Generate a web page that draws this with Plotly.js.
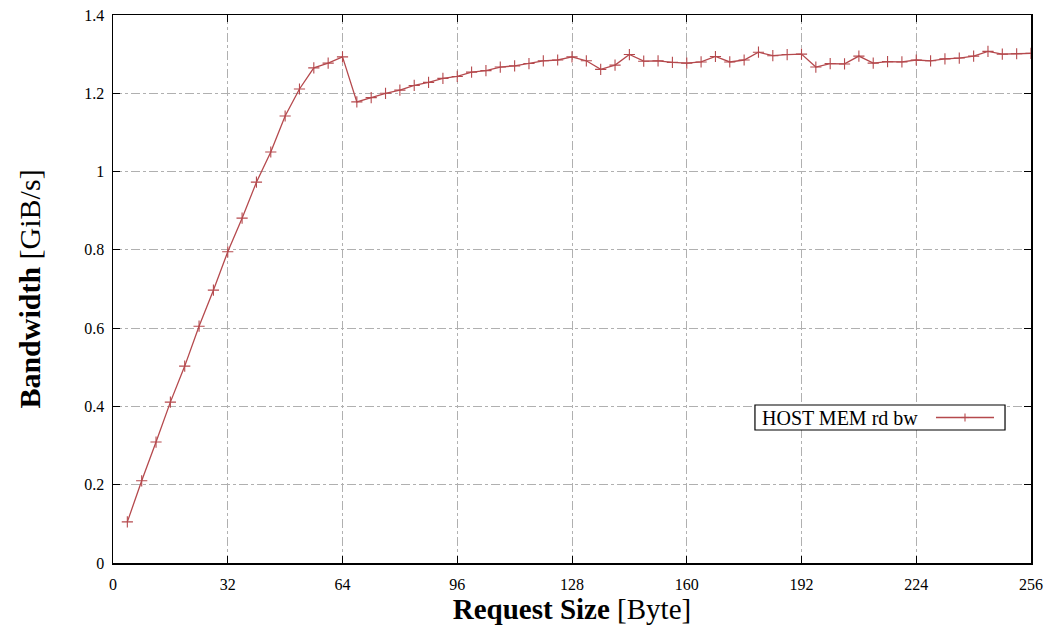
<!DOCTYPE html>
<html>
<head>
<meta charset="utf-8">
<script src="https://cdn.plot.ly/plotly-3.0.1.min.js"></script>
<style>html,body{margin:0;padding:0;background:#fff;}#chart{width:1049px;height:634px;}</style>
</head>
<body>
<div id="chart"></div>
<script>
const requestSize = [4,8,12,16,20,24,28,32,36,40,44,48,52,56,60,64,
  68,72,76,80,84,88,92,96,100,104,108,112,116,120,124,128,
  132,136,140,144,148,152,156,160,164,168,172,176,180,184,188,192,
  196,200,204,208,212,216,220,224,228,232,236,240,244,248,252,256];
const bandwidth = [0.105,0.210,0.309,0.411,0.503,0.605,0.697,0.795,0.881,0.973,1.050,1.142,1.211,1.265,1.277,1.293,
  1.178,1.189,1.200,1.208,1.220,1.228,1.238,1.243,1.254,1.258,1.267,1.270,1.276,1.283,1.285,1.293,
  1.283,1.261,1.272,1.299,1.282,1.283,1.279,1.277,1.280,1.294,1.280,1.285,1.305,1.296,1.299,1.300,
  1.267,1.276,1.275,1.295,1.277,1.281,1.280,1.285,1.283,1.288,1.290,1.295,1.307,1.300,1.301,1.302];
const xTicks = [0,32,64,96,128,160,192,224,256];
const yTicks = [0,0.2,0.4,0.6,0.8,1,1.2,1.4];
const yTickText = ['0','0.2','0.4','0.6','0.8','1','1.2','1.4'];
const seriesName = 'HOST MEM rd bw';

const red = '#b5494d';
const font = 'Liberation Serif, DejaVu Serif, serif';

const trace = {
  x: requestSize, y: bandwidth, type: 'scatter', mode: 'lines+markers',
  name: seriesName, showlegend: false,
  line: {color: red, width: 1.3},
  marker: {symbol: 'cross-thin', size: 8, line: {color: red, width: 1.1}}
};

// legend box geometry in paper coords
const lx0 = 0.6993, lx1 = 0.9717, ly0 = 0.2427, ly1 = 0.2883;
const lyc = (ly0 + ly1) / 2;
const sx0 = 0.8965, sx1 = 0.9597, sxc = (sx0 + sx1) / 2;

const layout = {
  width: 1049, height: 634,
  margin: {l: 113, r: 18, t: 15, b: 71},
  paper_bgcolor: '#fff', plot_bgcolor: '#fff',
  font: {family: font, size: 16, color: '#000'},
  xaxis: {
    range: [0, 256], tickvals: xTicks, ticktext: xTicks.map(String),
    ticks: 'inside', ticklen: 7, tickcolor: '#000', tickwidth: 1,
    showline: true, linecolor: '#000', linewidth: 1.5, mirror: 'ticks',
    showgrid: true, gridcolor: '#b0b0b0', gridwidth: 1, griddash: 'dashdot',
    zeroline: false, tickfont: {family: font, size: 16}, ticklabelstandoff: 6,
    title: {text: '<b>Request Size</b> [Byte]', font: {family: font, size: 29}, standoff: 6}
  },
  yaxis: {
    range: [0, 1.4], tickvals: yTicks, ticktext: yTickText,
    ticks: 'inside', ticklen: 7, tickcolor: '#000', tickwidth: 1,
    showline: true, linecolor: '#000', linewidth: 1.5, mirror: 'ticks',
    showgrid: true, gridcolor: '#b0b0b0', gridwidth: 1, griddash: 'dashdot',
    zeroline: false, tickfont: {family: font, size: 16}, ticklabelstandoff: 4,
    title: {text: '<b>Bandwidth</b> [GiB/s]', font: {family: font, size: 30}, standoff: 35}
  },
  shapes: [
    {type: 'rect', xref: 'paper', yref: 'paper', x0: lx0, x1: lx1, y0: ly0, y1: ly1,
     line: {color: '#000', width: 1.2}, fillcolor: '#fff', layer: 'above'},
    {type: 'line', xref: 'paper', yref: 'paper', x0: sx0, x1: sx1, y0: lyc, y1: lyc,
     line: {color: red, width: 1.3}, layer: 'above'},
    {type: 'line', xref: 'paper', yref: 'paper', x0: sxc - 0.0044, x1: sxc + 0.0044, y0: lyc, y1: lyc,
     line: {color: red, width: 1.1}, layer: 'above'},
    {type: 'line', xref: 'paper', yref: 'paper', x0: sxc, x1: sxc, y0: lyc - 0.0073, y1: lyc + 0.0073,
     line: {color: red, width: 1.1}, layer: 'above'}
  ],
  annotations: [
    {xref: 'paper', yref: 'paper', x: lx0 + 0.006, y: lyc, xanchor: 'left', yanchor: 'middle',
     text: seriesName, showarrow: false, font: {family: font, size: 20, color: '#000'}}
  ]
};

Plotly.newPlot('chart', [trace], layout, {displayModeBar: false, staticPlot: true});
</script>
</body>
</html>
